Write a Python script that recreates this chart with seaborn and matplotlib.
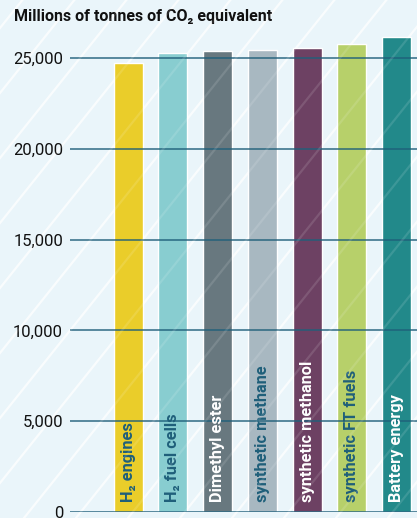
import matplotlib
matplotlib.use("Agg")
import matplotlib.pyplot as plt
import seaborn as sns
import numpy as np
import pandas as pd
from matplotlib.lines import Line2D

categories = ["H₂ engines", "H₂ fuel cells", "Dimethyl ester", "synthetic methane",
              "synthetic methanol", "synthetic FT fuels", "Battery energy"]
values = [24730, 25280, 25390, 25440, 25550, 25770, 26160]
colors = ["#EACD2A", "#88CDD0", "#68787F", "#A8B8C1", "#6D4163", "#B7D06A", "#22898A"]
label_colors = ["#1F5F7A", "#1F5F7A", "#FFFFFF", "#1F5F7A", "#FFFFFF", "#1F5F7A", "#FFFFFF"]
yticks = [0, 5000, 10000, 15000, 20000, 25000]
ytick_labels = ["0", "5,000", "10,000", "15,000", "20,000", "25,000"]
title = "Millions of tonnes of CO₂ equivalent"

sns.set_style("white")
plt.rcParams['font.family'] = ['Roboto', 'DejaVu Sans']

BG = "#EAF5FA"
GRID = "#1F5F7A"

fig = plt.figure(figsize=(4.17, 5.18), dpi=100, facecolor=BG)

# diagonal stripes on the background
W, H = 417, 518
for x0 in np.arange(-600, 500, 52):
    fig.add_artist(Line2D([x0 / W, (x0 + 560) / W], [0, 700 / H],
                          transform=fig.transFigure, color="white",
                          lw=1.6, alpha=0.75, zorder=0))

ax = fig.add_axes([70 / W, 1 - 512 / H, 1 - 70 / W, (512 - 30) / H])
ax.set_facecolor("none")
ax.patch.set_alpha(0)

df = pd.DataFrame({"cat": categories, "val": values})
sns.barplot(data=df, x="cat", y="val", hue="cat", palette=colors, dodge=False,
            width=0.644, saturation=1, legend=False, ax=ax, zorder=2)

ax.set_xlim(-1.3, 6.456)
ax.set_ylim(0, 26542)
ax.set_yticks(yticks)
ax.set_yticklabels(ytick_labels, fontsize=12, color="#111111")
ax.tick_params(axis="y", length=0, pad=5)
ax.set_xticks([])
ax.set_xlabel("")
ax.set_ylabel("")
for s in ax.spines.values():
    s.set_visible(False)

for y in yticks:
    ax.axhline(y, color=GRID, lw=1.2, alpha=0.85, zorder=3)

for i, (c, lc) in enumerate(zip(categories, label_colors)):
    ax.text(i, 560, c, rotation=90, ha="center", va="bottom",
            fontsize=11.8, fontweight="semibold", color=lc, zorder=4)

# faint stripes over the bars
for x0 in np.arange(-600, 500, 52):
    fig.add_artist(Line2D([x0 / W, (x0 + 560) / W], [0, 700 / H],
                          transform=fig.transFigure, color="white",
                          lw=1.6, alpha=0.12, zorder=5))

fig.text(14 / W, 1 - 21 / H, title, fontsize=11.5, fontweight="bold",
         color="#111111", ha="left", va="baseline")

fig.savefig("out.png", dpi=100, facecolor=BG)
